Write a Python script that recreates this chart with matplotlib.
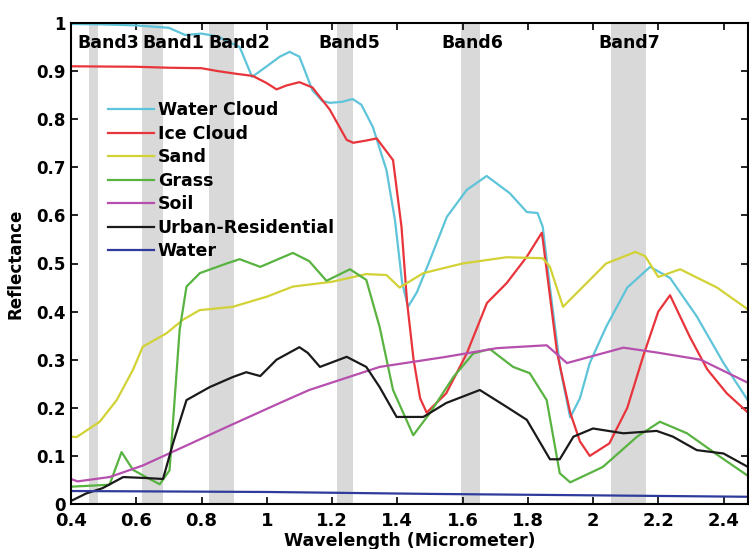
import matplotlib
matplotlib.use("Agg")
import matplotlib.pyplot as plt

plt.rcParams['font.family'] = ['DejaVu Sans']
plt.rcParams['font.weight'] = 'bold'

# ---- data ----
band_names = ["Band3", "Band1", "Band2", "Band5", "Band6", "Band7"]
band_lo = [0.454, 0.617, 0.822, 1.215, 1.595, 2.055]
band_hi = [0.482, 0.681, 0.899, 1.264, 1.653, 2.163]
band_label_x = [0.42, 0.62, 0.82, 1.157, 1.535, 2.015]

wc_x = [0.40, 0.50, 0.60, 0.70, 0.75, 0.80, 0.85, 0.917, 0.955, 1.00, 1.04, 1.07, 1.10, 1.14, 1.17, 1.193, 1.23, 1.263, 1.29,
        1.325, 1.367, 1.393, 1.415, 1.433, 1.46, 1.50, 1.552, 1.613, 1.674, 1.745, 1.797, 1.83, 1.846, 1.868, 1.90,
        1.93, 1.96, 1.99, 2.04, 2.105, 2.175, 2.236, 2.318, 2.40, 2.475]
wc_y = [0.998, 0.997, 0.995, 0.99, 0.975, 0.978, 0.972, 0.95, 0.888, 0.91, 0.93, 0.94, 0.93, 0.86, 0.838, 0.834, 0.836, 0.842, 0.83,
        0.784, 0.694, 0.59, 0.46, 0.41, 0.44, 0.507, 0.597, 0.653, 0.682, 0.646, 0.607, 0.605, 0.576, 0.45, 0.28,
        0.18, 0.22, 0.293, 0.368, 0.45, 0.493, 0.47, 0.39, 0.293, 0.215]

ic_x = [0.40, 0.60, 0.70, 0.80, 0.85, 0.90, 0.957, 1.00, 1.03, 1.06, 1.10, 1.14, 1.193, 1.245, 1.265, 1.30, 1.337, 1.387,
        1.413, 1.43, 1.45, 1.47, 1.49, 1.55, 1.613, 1.675, 1.735, 1.797, 1.843, 1.846, 1.89, 1.93, 1.96, 1.99, 2.05,
        2.105, 2.155, 2.20, 2.236, 2.297, 2.35, 2.41, 2.475]
ic_y = [0.91, 0.909, 0.907, 0.906, 0.90, 0.895, 0.89, 0.875, 0.862, 0.87, 0.877, 0.866, 0.82, 0.757, 0.751, 0.755, 0.76, 0.715,
        0.576, 0.42, 0.30, 0.22, 0.19, 0.23, 0.313, 0.418, 0.459, 0.514, 0.564, 0.55, 0.314, 0.19, 0.13, 0.10, 0.126,
        0.20, 0.31, 0.40, 0.434, 0.347, 0.28, 0.23, 0.19]

sand_x = [0.40, 0.417, 0.488, 0.54, 0.59, 0.62, 0.693, 0.743, 0.794, 0.896, 1.00, 1.08, 1.20, 1.305, 1.367, 1.407, 1.48,
          1.60, 1.735, 1.846, 1.868, 1.908, 1.98, 2.04, 2.13, 2.16, 2.20, 2.267, 2.38, 2.478]
sand_y = [0.14, 0.139, 0.171, 0.216, 0.279, 0.327, 0.355, 0.383, 0.403, 0.41, 0.431, 0.452, 0.462, 0.478, 0.476, 0.45, 0.48,
          0.50, 0.513, 0.511, 0.493, 0.41, 0.459, 0.50, 0.524, 0.515, 0.472, 0.488, 0.45, 0.403]

grass_x = [0.40, 0.518, 0.555, 0.59, 0.63, 0.672, 0.702, 0.733, 0.754, 0.795, 0.877, 0.917, 0.98, 1.08, 1.13, 1.183,
           1.255, 1.305, 1.346, 1.387, 1.449, 1.50, 1.572, 1.633, 1.684, 1.755, 1.806, 1.858, 1.898, 1.93, 2.03,
           2.135, 2.205, 2.288, 2.39, 2.478]
grass_y = [0.036, 0.04, 0.108, 0.071, 0.056, 0.041, 0.07, 0.362, 0.452, 0.48, 0.50, 0.509, 0.493, 0.522, 0.505, 0.464,
           0.488, 0.466, 0.368, 0.237, 0.143, 0.189, 0.264, 0.313, 0.322, 0.285, 0.272, 0.216, 0.064, 0.045, 0.077,
           0.14, 0.171, 0.147, 0.098, 0.057]

soil_x = [0.40, 0.42, 0.518, 0.62, 0.723, 0.877, 1.04, 1.13, 1.346, 1.55, 1.705, 1.858, 1.92, 2.093, 2.195, 2.33, 2.478]
soil_y = [0.052, 0.047, 0.056, 0.08, 0.112, 0.16, 0.21, 0.237, 0.285, 0.306, 0.324, 0.33, 0.293, 0.325, 0.315, 0.30, 0.251]

urban_x = [0.405, 0.447, 0.497, 0.56, 0.63, 0.682, 0.713, 0.754, 0.825, 0.896, 0.937, 0.98, 1.03, 1.10, 1.126, 1.163,
           1.245, 1.305, 1.346, 1.398, 1.48, 1.55, 1.653, 1.735, 1.797, 1.868, 1.898, 1.94, 2.0, 2.093, 2.195, 2.245,
           2.318, 2.40, 2.475]
urban_y = [0.008, 0.022, 0.033, 0.056, 0.054, 0.052, 0.127, 0.216, 0.243, 0.264, 0.274, 0.266, 0.30, 0.326, 0.314, 0.285,
           0.306, 0.285, 0.243, 0.181, 0.181, 0.21, 0.237, 0.202, 0.175, 0.093, 0.093, 0.14, 0.157, 0.147, 0.152, 0.14,
           0.112, 0.105, 0.077]

water_x = [0.40, 1.00, 1.50, 2.00, 2.48]
water_y = [0.027, 0.025, 0.021, 0.018, 0.015]

series = [
    ("Water Cloud", wc_x, wc_y, "#5ec4d9"),
    ("Ice Cloud", ic_x, ic_y, "#e8343a"),
    ("Sand", sand_x, sand_y, "#d2d236"),
    ("Grass", grass_x, grass_y, "#58b340"),
    ("Soil", soil_x, soil_y, "#b64fae"),
    ("Urban-Residential", urban_x, urban_y, "#1a1a1a"),
    ("Water", water_x, water_y, "#2f3b9c"),
]

xticks = [0.4, 0.6, 0.8, 1.0, 1.2, 1.4, 1.6, 1.8, 2.0, 2.2, 2.4]
xticklabels = ["0.4", "0.6", "0.8", "1", "1.2", "1.4", "1.6", "1.8", "2", "2.2", "2.4"]
yticks = [0, 0.1, 0.2, 0.3, 0.4, 0.5, 0.6, 0.7, 0.8, 0.9, 1.0]
yticklabels = ["0", "0.1", "0.2", "0.3", "0.4", "0.5", "0.6", "0.7", "0.8", "0.9", "1"]

# ---- figure ----
fig = plt.figure(figsize=(7.49, 5.49), dpi=100)
ax = fig.add_axes([71 / 749, 1 - 504 / 549, 677 / 749, 481 / 549])

for lo, hi in zip(band_lo, band_hi):
    ax.axvspan(lo, hi, color="#d9d9d9", lw=0, zorder=0)
for name, bx in zip(band_names, band_label_x):
    ax.text(bx, 0.958, name, fontsize=12.5, fontweight="bold", ha="left", va="center")

for name, xs, ys, c in series:
    ax.plot(xs, ys, color=c, lw=1.6, label=name)

ax.set_xlim(0.4, 2.475)
ax.set_ylim(0, 1)
ax.set_xticks(xticks)
ax.set_xticklabels(xticklabels)
ax.set_yticks(yticks)
ax.set_yticklabels(yticklabels)
ax.tick_params(direction="in", top=True, right=True, length=5, width=1.2, pad=3)
ax.tick_params(axis="x", labelsize=13, pad=6)
ax.tick_params(axis="y", labelsize=12, pad=4)
for lab in ax.get_xticklabels() + ax.get_yticklabels():
    lab.set_fontweight("bold")
for s in ax.spines.values():
    s.set_linewidth(1.5)

ax.set_xlabel("Wavelength (Micrometer)", fontsize=12.5, fontweight="bold", labelpad=1.5)
ax.set_ylabel("Reflectance", fontsize=12, fontweight="bold", labelpad=8)

leg = ax.legend(loc="upper left", bbox_to_anchor=(0.044, 0.852), frameon=False, fontsize=12.5,
                handlelength=2.65, handletextpad=0.23, labelspacing=0.32, borderaxespad=0)
for t in leg.get_texts():
    t.set_fontweight("bold")

fig.savefig("out.png", dpi=100)
